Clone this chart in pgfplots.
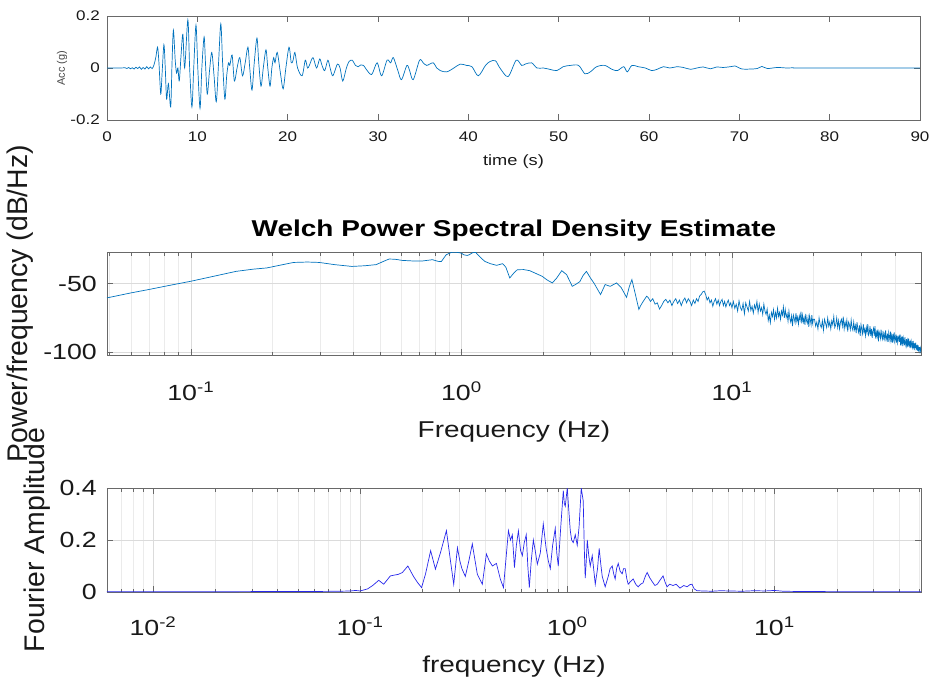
\documentclass[border=0pt]{standalone}
\usepackage{pgfplots}
\pgfplotsset{compat=1.18}
\usepackage{fontspec}
\setmainfont{Liberation Sans}
\newfontfamily\wide[FakeStretch=1.22]{Liberation Sans}
\definecolor{mblue}{RGB}{0,114,189}
\definecolor{fblue}{RGB}{40,40,235}
\definecolor{axgray}{RGB}{105,105,105}
\definecolor{txt}{RGB}{25,25,25}
\pgfplotsset{
  mstyle/.style={
    scale only axis,
    axis line style={axgray, line width=0.6bp},
    tick style={axgray, line width=0.5bp},
    major tick length=6bp, minor tick length=3.5bp,
    tick align=inside, xtick pos=both, ytick pos=both,
    ticklabel style={txt},
    label style={txt},
    major grid style={gray!28, line width=0.4bp},
    minor grid style={gray!16, line width=0.4bp},
  }
}
\begin{document}
\begin{tikzpicture}
\path[use as bounding box] (0,0) rectangle (931bp,-684bp);

% ---------- top: acceleration ----------
\begin{axis}[mstyle,
  at={(107bp,-120bp)}, anchor=south west, width=813bp, height=104bp,
  xmin=0, xmax=90, ymin=-0.2, ymax=0.2,
  xtick={0,10,20,30,40,50,60,70,80,90},
  xticklabels={0,10,20,30,40,50,60,70,80,90},
  ytick={-0.2,0,0.2}, yticklabels={-0.2,0,0.2},
  ticklabel style={font=\wide\fontsize{14}{16}\selectfont},
  xticklabel style={anchor=base, yshift=-21bp},
  yticklabel style={anchor=east, inner sep=0pt, xshift=-7bp},
  xlabel={time (s)},
  xlabel style={at={(axis description cs:0.5,0)}, anchor=base, yshift=-45bp, font=\wide\fontsize{15}{17}\selectfont},
  ylabel={Acc (g)},
  ylabel style={at={(axis description cs:-0.0553,0.5)}, anchor=center, font=\fontsize{11}{13}\selectfont, txt!80},
]
\addplot[mblue, line width=0.7bp, smooth, tension=0.5] coordinates {
(0,0) (1.5,0) (2.0,0.001) (2.2,-0.002) (2.4,0.002) (2.6,-0.003) (2.8,0.001) (3.0,-0.004) (3.2,0.003) (3.4,-0.002) (3.6,0.004) (3.8,-0.005) (4.0,0.002) (4.2,-0.004) (4.4,0.005) (4.6,-0.003) (4.8,0.004) (5.0,-0.002) (5.2,0.012) (5.4,0.04)
(5.6,0.08) (5.75,0.02) (5.95,-0.10) (6.1,-0.02) (6.3,0.09) (6.45,0.0) (6.6,-0.12) (6.8,-0.06) (7.05,-0.15) (7.2,0.02) (7.35,0.146) (7.55,0.03) (7.7,-0.02) (7.85,0.0) (8.0,-0.05) (8.2,0.05) (8.4,0.13) (8.6,0.0) (8.95,0.185) (9.15,0.0)
(9.4,-0.15) (9.6,0.0) (9.85,0.165) (10.05,0.0) (10.3,-0.155) (10.5,0.0) (10.75,0.12) (10.9,0.02) (11.1,-0.10) (11.35,-0.01) (11.6,0.06) (11.85,-0.03) (12.1,-0.13) (12.35,0.02) (12.6,0.17) (12.8,0.02) (13.05,-0.12) (13.25,-0.03) (13.45,0.02) (13.6,0.01)
(13.85,0.05) (14.1,-0.05) (14.4,0.0) (14.7,0.04) (15.0,-0.03) (15.3,0.02) (15.6,0.08) (15.8,0.0) (16.05,-0.085) (16.3,0.02) (16.6,0.115) (16.8,0.02) (17.05,-0.07) (17.3,0.0) (17.6,0.07) (17.8,0.0) (18.05,-0.07) (18.25,0.0) (18.45,0.04) (18.6,0.02)
(18.85,0.06) (19.2,-0.02) (19.5,-0.08) (19.8,0.0) (20.15,0.08) (20.4,0.02) (20.6,0.03) (20.8,0.06) (21.1,0.0) (21.6,-0.03) (21.95,0.03) (22.2,0.0) (22.4,0.01) (22.8,0.04) (23.2,0.0) (23.55,0.035) (23.8,0.01) (24.1,-0.01) (24.45,0.03) (24.7,0.0)
(25.0,-0.03) (25.5,0.015) (25.8,0.0) (26.1,-0.05) (26.5,0.0) (26.8,0.025) (27.15,0.03) (27.5,0.01) (27.8,0.005) (28.1,0.012) (28.4,0.01) (28.7,-0.005) (29.3,-0.025) (29.9,0.02) (30.4,-0.03) (31.0,0.03) (31.4,0.02) (31.7,0.04) (32.2,-0.01) (32.6,-0.045)
(33.2,0.01) (33.5,-0.01) (33.9,-0.045) (34.6,0.03) (35.0,0.02) (35.4,0.01) (36.1,0.02) (36.5,0.0) (36.9,-0.01) (37.6,-0.015) (38.4,0.0) (39.1,0.015) (39.8,0.01) (40.4,0.005) (41.1,-0.03) (41.9,0.01) (42.4,0.025) (43.0,0.028) (43.5,0.0) (44.4,-0.033)
(45.3,0.03) (45.9,0.01) (46.3,0.015) (47.0,0.02) (47.6,0.0) (48.3,0.0) (49.0,-0.005) (49.8,-0.01) (50.5,0.005) (51.3,0.01) (52.2,0.01) (52.9,-0.022) (53.5,-0.015) (54.2,0.005) (55.1,0.01) (55.9,-0.005) (56.5,-0.01) (57.2,0.005) (57.6,-0.015) (58.1,0.01)
(58.8,0.005) (59.6,0.0) (60.3,-0.01) (60.9,-0.005) (61.6,0.005) (62.3,0.0) (63.1,0.005) (63.8,0.002) (64.6,-0.005) (65.3,0.0) (66.0,0.004) (66.8,-0.003) (67.5,0.004) (68.2,0.002) (69.0,0.005) (69.5,0.008) (70.3,-0.004) (71.2,-0.004) (72.0,-0.002) (72.5,0.006)
(73.1,-0.002) (74.2,0.002) (75.3,0.0) (76.0,0.001) (77,0) (90,0)
};
\end{axis}

% ---------- middle: Welch PSD ----------
\begin{axis}[mstyle,
  at={(107bp,-355bp)}, anchor=south west, width=814bp, height=103bp,
  xmode=log, xmin=0.049, xmax=50, ymin=-102, ymax=-27,
  xtick={0.1,1,10},
  xticklabels={10\textsuperscript{-1},10\textsuperscript{0},10\textsuperscript{1}},
  minor xtick={0.05,0.06,0.07,0.08,0.09,0.2,0.3,0.4,0.5,0.6,0.7,0.8,0.9,2,3,4,5,6,7,8,9,20,30,40,50},
  ytick={-100,-50}, yticklabels={-100,-50},
  grid=both,
  ticklabel style={font=\wide\fontsize{22}{26}\selectfont},
  xticklabel style={anchor=base, yshift=-45bp},
  yticklabel style={anchor=east, inner sep=0pt, xshift=-10bp},
  title={Welch Power Spectral Density Estimate},
  title style={at={(axis description cs:0.5,1)}, anchor=base, yshift=10bp, font=\wide\bfseries\fontsize{23}{26}\selectfont, black},
  xlabel={Frequency (Hz)},
  xlabel style={at={(axis description cs:0.5,0)}, anchor=base, yshift=-82bp, font=\wide\fontsize{23}{26}\selectfont},
  ylabel={Power/frequency (dB/Hz)},
  ylabel style={at={(axis description cs:-0.1069,0.5)}, anchor=center, font=\fontsize{28.5}{31}\selectfont},
]
\addplot[mblue, line width=0.7bp] coordinates {
(0.049,-60.4) (0.06,-56.8) (0.07,-54.3) (0.08,-52) (0.1,-48.3) (0.12,-44.9) (0.147,-41.1) (0.17,-39.5) (0.191,-38.6) (0.215,-36.5) (0.24,-34.6) (0.27,-34.3) (0.298,-34.6) (0.34,-36.2) (0.394,-37.5) (0.44,-37) (0.484,-36.2) (0.52,-33.5) (0.541,-32.1) (0.57,-32.3)
(0.604,-33.1) (0.659,-33.5) (0.72,-33.5) (0.782,-32.6) (0.82,-33.8) (0.843,-34) (0.879,-29) (0.918,-27.3) (0.96,-27.2) (1.0,-27.8) (1.02,-29) (1.05,-29.5) (1.07,-29) (1.1,-27.5) (1.13,-27.3) (1.17,-30.5) (1.22,-33.8) (1.28,-35.5) (1.35,-36.7) (1.42,-35.5)
(1.46,-38) (1.51,-45.9) (1.56,-42.5) (1.61,-39.9) (1.7,-39.8) (1.79,-40.6) (1.88,-42.5) (1.99,-44.7) (2.08,-47.5) (2.17,-49.5) (2.25,-46) (2.35,-40.6) (2.45,-43.5) (2.57,-52) (2.65,-50.5) (2.74,-48.6) (2.82,-44) (2.9,-41.1) (3.0,-45.9) (3.1,-50)
(3.27,-58) (3.4,-50.7) (3.55,-52) (3.75,-49.5) (3.9,-53) (4.08,-60) (4.18,-52) (4.27,-47.1) (4.4,-58) (4.53,-68.8) (4.6,-66) (4.7,-63) (4.84,-59.2)
(4.9,-60) (5.0,-63) (5.1,-61) (5.2,-65) (5.3,-64) (5.4,-68.5) (5.5,-66) (5.6,-63) (5.7,-61.5) (5.8,-64) (5.9,-62) (6.0,-66) (6.1,-63) (6.2,-61) (6.3,-64.5) (6.4,-62) (6.5,-66) (6.6,-62.5) (6.7,-60.5) (6.8,-64)
(6.9,-61) (7.0,-63) (7.1,-66) (7.2,-62) (7.3,-64.5) (7.4,-61) (7.5,-63) (7.6,-59) (7.7,-58) (7.8,-56) (7.9,-55.5) (8.0,-58) (8.1,-62) (8.2,-60) (8.3,-64) (8.4,-62) (8.5,-66.5) (8.6,-63) (8.7,-61) (8.8,-65)
(8.9,-62) (9.0,-66) (9.1,-63) (9.2,-61.5) (9.3,-66) (9.4,-63) (9.5,-67) (9.6,-64) (9.7,-62) (9.8,-66) (9.9,-64) (10.0,-67.5)
(10.125,-63) (10.25,-68) (10.375,-65) (10.5,-70) (10.625,-62.5) (10.75,-67.5) (10.875,-69.5) (11.0,-64.5) (11.125,-72) (11.25,-64) (11.375,-67) (11.5,-70) (11.625,-63) (11.75,-69.5) (11.875,-66.5) (12.0,-71.5) (12.125,-65.5) (12.25,-68.5) (12.375,-63) (12.5,-71)
(12.625,-65) (12.75,-70) (12.875,-67.5) (13.0,-72.5) (13.125,-65) (13.25,-70) (13.375,-72.5) (13.5,-68.5) (13.625,-77) (13.75,-73) (13.875,-78.5) (14.0,-71) (14.125,-74) (14.25,-69) (14.375,-76) (14.5,-71) (14.625,-75) (14.75,-68) (14.875,-74) (15.0,-71)
(15.125,-76) (15.25,-70) (15.375,-73) (15.5,-67) (15.625,-75) (15.75,-69) (15.875,-74.5) (16.0,-72) (16.125,-77.5) (16.25,-70) (16.375,-75.5) (16.5,-78) (16.625,-73.5) (16.75,-81) (16.875,-73) (17.0,-75.5) (17.125,-78.5) (17.25,-71.5) (17.375,-77.5) (17.5,-74.5)
(17.625,-79.5) (17.75,-73.5) (17.875,-76.5) (18.0,-70.5) (18.125,-79) (18.25,-73) (18.375,-78) (18.5,-75) (18.625,-80) (18.75,-72) (18.875,-77) (19.0,-79) (19.125,-74.5) (19.25,-81.5) (19.375,-73.5) (19.5,-76.5) (19.625,-80) (19.75,-73) (19.875,-79) (20.0,-76)
(20.2,-76) (20.4,-81) (20.6,-78) (20.8,-83) (21.0,-75) (21.2,-80) (21.4,-82) (21.6,-77) (21.8,-84) (22.0,-76) (22.2,-79) (22.4,-82) (22.6,-75) (22.8,-81) (23.0,-78) (23.2,-83) (23.4,-77) (23.6,-80) (23.8,-74) (24.0,-82)
(24.2,-80) (24.4,-75) (24.6,-82) (24.8,-77) (25.0,-83) (25.2,-78) (25.4,-76) (25.6,-81) (25.8,-74) (26.0,-83) (26.2,-78) (26.4,-81.5) (26.6,-76.5) (26.8,-85) (27.0,-78) (27.2,-80) (27.4,-83.5) (27.6,-76.5) (27.8,-82) (28.0,-84)
(28.2,-78) (28.4,-83.5) (28.6,-80.5) (28.8,-86) (29.0,-78) (29.2,-83) (29.4,-85.5) (29.6,-80.5) (29.8,-88) (30.0,-80) (30.2,-83) (30.4,-86.5) (30.6,-79.5) (30.8,-85.5) (31.0,-83) (31.2,-88) (31.4,-82) (31.6,-85.5) (31.8,-79.5) (32.0,-87.5)
(32.2,-86) (32.4,-81) (32.6,-88) (32.8,-83) (33.0,-89.5) (33.2,-84.5) (33.4,-82.5) (33.6,-88) (33.8,-81) (34.0,-90) (34.2,-85.5) (34.4,-88.5) (34.6,-83.5) (34.8,-92) (35.0,-85) (35.2,-87) (35.4,-90) (35.6,-83.5) (35.8,-88.5) (36.0,-90.5)
(36.2,-84.5) (36.4,-89.5) (36.6,-87) (36.8,-92) (37.0,-84) (37.2,-89) (37.4,-91) (37.6,-86.5) (37.8,-92.5) (38.0,-85.5) (38.2,-88.5) (38.4,-91.5) (38.6,-85) (38.8,-91) (39.0,-88) (39.2,-93) (39.4,-87) (39.6,-90.5) (39.8,-85.5) (40.0,-92.5)
(40.2,-90.5) (40.4,-87) (40.6,-93) (40.8,-88) (41.0,-93) (41.2,-89.5) (41.4,-88.5) (41.6,-92.5) (41.8,-87) (42.0,-95) (42.2,-90) (42.4,-93) (42.6,-88.5) (42.8,-95.5) (43.0,-89.5) (43.2,-92) (43.4,-95) (43.6,-89) (43.8,-93) (44.0,-95.5)
(44.2,-90.5) (44.4,-94.5) (44.6,-91.5) (44.8,-96) (45.0,-90) (45.2,-94) (45.4,-95.5) (45.6,-91.5) (45.8,-97) (46.0,-92) (46.2,-94.5) (46.4,-96.5) (46.6,-92) (46.8,-97) (47.0,-94) (47.2,-98.5) (47.4,-93.5) (47.6,-97) (47.8,-93) (48.0,-98)
(48.2,-97.5) (48.4,-94.5) (48.6,-99) (48.8,-95) (49.0,-99.5) (49.2,-96.5) (49.4,-96.5) (49.6,-99.5) (49.8,-97) (50.0,-99.5)
};
\end{axis}

% ---------- bottom: Fourier amplitude ----------
\begin{axis}[mstyle,
  at={(107bp,-592bp)}, anchor=south west, width=814bp, height=104bp,
  xmode=log, xmin=0.006, xmax=51, ymin=0, ymax=0.4,
  xtick={0.01,0.1,1,10},
  xticklabels={10\textsuperscript{-2},10\textsuperscript{-1},10\textsuperscript{0},10\textsuperscript{1}},
  minor xtick={0.006,0.007,0.008,0.009,0.02,0.03,0.04,0.05,0.06,0.07,0.08,0.09,0.2,0.3,0.4,0.5,0.6,0.7,0.8,0.9,2,3,4,5,6,7,8,9,20,30,40,50},
  ytick={0,0.2,0.4}, yticklabels={0,0.2,0.4},
  grid=both,
  ticklabel style={font=\wide\fontsize{22}{26}\selectfont},
  xticklabel style={anchor=base, yshift=-43bp},
  yticklabel style={anchor=east, inner sep=0pt, xshift=-10bp},
  xlabel={frequency (Hz)},
  xlabel style={at={(axis description cs:0.5,0)}, anchor=base, yshift=-80bp, font=\wide\fontsize{23}{26}\selectfont},
  ylabel={Fourier Amplitude},
  ylabel style={at={(axis description cs:-0.086,0.5)}, anchor=center, font=\fontsize{28.5}{31}\selectfont},
]
\addplot[fblue, line width=0.7bp] coordinates {
(0.006,0.001) (0.01,0.001) (0.02,0.001) (0.04,0.002) (0.06,0.002) (0.08,0.003) (0.09,0.004) (0.095,0.006) (0.1,0.004) (0.1087,0.012) (0.115,0.025) (0.123,0.045) (0.130,0.03) (0.140,0.062) (0.153,0.068) (0.160,0.075) (0.170,0.10) (0.181,0.06) (0.19,0.035) (0.198,0.017)
(0.207,0.07) (0.219,0.159) (0.231,0.088) (0.244,0.15) (0.261,0.236) (0.273,0.12) (0.283,0.03) (0.295,0.17) (0.303,0.12) (0.31,0.09) (0.322,0.06) (0.335,0.12) (0.348,0.185) (0.368,0.068) (0.389,0.03) (0.407,0.146) (0.42,0.12) (0.435,0.10) (0.455,0.11) (0.475,0.05)
(0.492,0.017) (0.505,0.12) (0.52,0.236) (0.532,0.20) (0.543,0.22) (0.556,0.094) (0.568,0.18) (0.581,0.235) (0.595,0.16) (0.607,0.14) (0.62,0.19) (0.634,0.22) (0.645,0.10) (0.656,0.017) (0.67,0.12) (0.686,0.20) (0.70,0.16) (0.717,0.107) (0.741,0.15) (0.766,0.262)
(0.79,0.17) (0.81,0.12) (0.828,0.09) (0.85,0.18) (0.875,0.245) (0.89,0.15) (0.905,0.10) (0.93,0.25) (0.957,0.39) (0.968,0.34) (0.978,0.33) (1.0,0.40) (1.02,0.30) (1.034,0.236) (1.05,0.20) (1.069,0.19) (1.093,0.22) (1.117,0.18) (1.14,0.25) (1.168,0.40)
(1.194,0.35) (1.21,0.15) (1.221,0.053) (1.235,0.12) (1.249,0.2) (1.27,0.14) (1.291,0.1) (1.32,0.14) (1.365,0.03) (1.40,0.09) (1.426,0.168) (1.45,0.11) (1.475,0.06) (1.524,0.02) (1.55,0.04) (1.577,0.06) (1.61,0.09) (1.648,0.10) (1.675,0.07) (1.703,0.05)
(1.73,0.09) (1.762,0.11) (1.8,0.08) (1.841,0.07) (1.87,0.09) (1.904,0.09) (1.94,0.05) (1.968,0.03) (2.02,0.04) (2.08,0.05) (2.14,0.03) (2.2,0.02) (2.26,0.03) (2.32,0.035) (2.38,0.06) (2.43,0.075) (2.5,0.055) (2.57,0.04) (2.65,0.025) (2.72,0.03)
(2.8,0.045) (2.9,0.062) (2.96,0.04) (3.03,0.02) (3.12,0.03) (3.24,0.025) (3.35,0.03) (3.5,0.015) (3.65,0.025) (3.79,0.02) (3.9,0.028) (4.0,0.03) (4.1,0.012) (4.23,0.005) (4.5,0.004) (5,0.003) (5.5,0.005) (6,0.004) (7,0.003) (8,0.005)
(9,0.004) (10,0.006) (11,0.003) (13,0.002) (16,0.002) (20,0.001) (30,0.001) (51,0.001)
};
\end{axis}
\end{tikzpicture}
\end{document}
